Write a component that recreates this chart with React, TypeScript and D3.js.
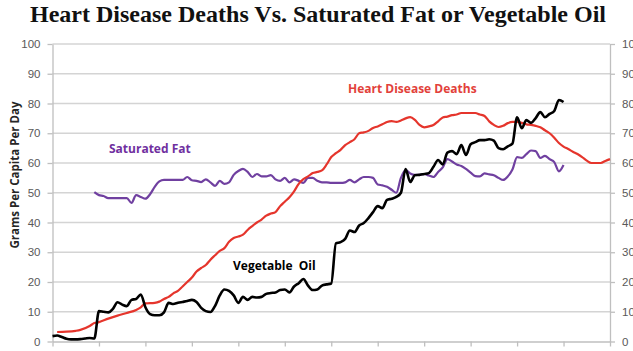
import React, { useEffect, useRef } from 'react';
import * as d3 from 'd3';

// [year, grams per capita per day]
const vegetableOil: [number, number][] = [
  [1900, 1.8], [1901, 2.0], [1902, 1.5], [1903, 0.9], [1904, 0.7], [1905, 0.7], [1906, 0.8],
  [1907, 1.0], [1908, 1.2], [1909, 1.0], [1910, 10.2], [1911, 10.0], [1912, 9.8], [1913, 11.0],
  [1914, 13.2], [1915, 12.4], [1916, 11.9], [1917, 14.0], [1918, 14.3], [1919, 15.8], [1920, 11.5],
  [1921, 9.2], [1922, 8.8], [1923, 8.8], [1924, 9.8], [1925, 13.0], [1926, 12.6], [1927, 13.0],
  [1928, 13.3], [1929, 13.6], [1930, 14.0], [1931, 13.3], [1932, 11.3], [1933, 10.2], [1934, 9.9],
  [1935, 12.0], [1936, 15.5], [1937, 17.5], [1938, 17.0], [1939, 15.5], [1940, 13.0], [1941, 15.0],
  [1942, 14.0], [1943, 15.0], [1944, 14.8], [1945, 15.0], [1946, 16.0], [1947, 16.3], [1948, 16.5],
  [1949, 17.3], [1950, 17.5], [1951, 16.5], [1952, 18.5], [1953, 19.6], [1954, 21.0], [1955, 18.8],
  [1956, 17.3], [1957, 17.5], [1958, 18.8], [1959, 19.2], [1960, 19.5], [1961, 33.0], [1962, 33.4],
  [1963, 34.5], [1964, 37.3], [1965, 36.8], [1966, 39.0], [1967, 39.8], [1968, 41.5], [1969, 43.5],
  [1970, 45.5], [1971, 44.8], [1972, 47.6], [1973, 48.0], [1974, 48.6], [1975, 50.0], [1976, 58.0],
  [1977, 53.6], [1978, 55.9], [1979, 56.0], [1980, 56.3], [1981, 56.6], [1982, 58.7], [1983, 61.0],
  [1984, 59.5], [1985, 63.5], [1986, 64.0], [1987, 63.0], [1988, 66.0], [1989, 62.7], [1990, 66.3],
  [1991, 67.0], [1992, 67.7], [1993, 67.7], [1994, 68.0], [1995, 67.5], [1996, 65.0], [1997, 64.6],
  [1998, 65.6], [1999, 66.5], [2000, 75.4], [2001, 71.7], [2002, 74.4], [2003, 73.5], [2004, 75.1],
  [2005, 77.1], [2006, 75.4], [2007, 76.5], [2008, 77.5], [2009, 81.2], [2010, 80.5],
];

const heartDisease: [number, number][] = [
  [1901, 3.2], [1903, 3.3], [1905, 3.6], [1906, 3.9], [1908, 5.2], [1909, 6.2], [1910, 6.5],
  [1912, 7.7], [1914, 8.7], [1916, 9.6], [1918, 10.6], [1919, 11.5], [1920, 12.8], [1922, 13.0],
  [1923, 13.4], [1924, 14.3], [1925, 15.0], [1926, 16.2], [1927, 17.0], [1928, 18.5], [1929, 20.0],
  [1930, 21.5], [1931, 23.5], [1932, 24.7], [1933, 25.7], [1934, 27.5], [1935, 29.0], [1936, 30.5],
  [1937, 31.4], [1938, 33.5], [1939, 34.8], [1940, 35.3], [1941, 35.9], [1942, 37.5], [1943, 38.8],
  [1944, 40.0], [1945, 41.0], [1946, 42.3], [1947, 43.0], [1948, 43.5], [1949, 45.5], [1950, 47.0],
  [1951, 48.5], [1952, 50.5], [1953, 53.0], [1954, 54.6], [1955, 55.5], [1956, 56.6], [1957, 57.0],
  [1958, 57.5], [1959, 59.5], [1960, 62.0], [1961, 63.3], [1962, 64.4], [1963, 66.0], [1964, 67.0],
  [1965, 68.0], [1966, 70.0], [1967, 70.3], [1968, 70.8], [1969, 71.8], [1970, 72.3], [1971, 73.0],
  [1972, 73.8], [1973, 74.1], [1974, 73.8], [1975, 74.3], [1976, 75.0], [1977, 75.4], [1978, 74.5],
  [1979, 72.8], [1980, 72.0], [1981, 72.3], [1982, 72.8], [1983, 74.0], [1984, 75.3], [1985, 75.6],
  [1986, 76.1], [1987, 76.3], [1988, 76.8], [1989, 76.8], [1990, 76.8], [1991, 76.8], [1992, 76.3],
  [1993, 75.8], [1994, 74.0], [1995, 72.8], [1996, 72.1], [1997, 72.5], [1998, 73.4], [1999, 73.8],
  [2000, 73.8], [2001, 73.5], [2002, 73.0], [2003, 72.8], [2004, 72.5], [2005, 72.0], [2006, 71.0],
  [2007, 70.0], [2008, 68.5], [2009, 66.7], [2010, 65.5], [2011, 64.7], [2012, 63.8], [2013, 63.0],
  [2014, 62.0], [2015, 60.8], [2016, 60.0], [2017, 60.0], [2018, 60.0], [2019, 60.7], [2020, 61.3],
];

const saturatedFat: [number, number][] = [
  [1909, 50.2], [1910, 49.2], [1911, 48.9], [1912, 48.2], [1913, 48.2], [1914, 48.2], [1915, 48.2],
  [1916, 48.2], [1917, 46.6], [1918, 49.2], [1919, 48.6], [1920, 48.0], [1921, 49.5], [1922, 52.0],
  [1923, 53.8], [1924, 54.3], [1925, 54.3], [1926, 54.3], [1927, 54.3], [1928, 54.3], [1929, 55.3],
  [1930, 54.2], [1931, 54.0], [1932, 53.6], [1933, 54.5], [1934, 53.5], [1935, 52.3], [1936, 54.0],
  [1937, 53.0], [1938, 53.5], [1939, 56.0], [1940, 57.3], [1941, 58.0], [1942, 57.0], [1943, 55.3],
  [1944, 56.3], [1945, 55.5], [1946, 55.5], [1947, 55.9], [1948, 54.5], [1949, 54.0], [1950, 55.0],
  [1951, 53.5], [1952, 54.5], [1953, 54.0], [1954, 53.3], [1955, 55.0], [1956, 55.0], [1957, 54.0],
  [1958, 53.5], [1959, 53.5], [1960, 53.3], [1961, 53.3], [1962, 53.3], [1963, 53.5], [1964, 54.3],
  [1965, 53.5], [1966, 54.5], [1967, 55.3], [1968, 55.3], [1969, 55.0], [1970, 52.8], [1971, 52.5],
  [1972, 52.0], [1973, 51.0], [1974, 50.0], [1975, 55.0], [1976, 57.6], [1977, 56.5], [1978, 56.0],
  [1979, 56.0], [1980, 56.3], [1981, 55.8], [1982, 55.3], [1983, 57.0], [1984, 58.5], [1985, 61.3],
  [1986, 60.5], [1987, 59.5], [1988, 59.0], [1989, 58.0], [1990, 56.8], [1991, 55.6], [1992, 55.5],
  [1993, 56.5], [1994, 56.2], [1995, 55.9], [1996, 55.0], [1997, 54.3], [1998, 55.5], [1999, 57.8],
  [2000, 62.0], [2001, 61.7], [2002, 63.0], [2003, 64.2], [2004, 64.0], [2005, 61.7], [2006, 62.4],
  [2007, 61.3], [2008, 60.3], [2009, 57.2], [2010, 59.3],
];

const yTicks = [0, 10, 20, 30, 40, 50, 60, 70, 80, 90, 100];
const xTicks = [1900, 1910, 1920, 1930, 1940, 1950, 1960, 1970, 1980, 1990, 2000, 2010, 2020];

const App = () => {
  const svgRef = useRef<SVGSVGElement>(null);

  useEffect(() => {
    const width = 633;
    const height = 351;
    const margin = { top: 44, right: 23, bottom: 9.5, left: 52.5 };

    const svg = d3.select(svgRef.current).attr('width', width).attr('height', height);
    svg.selectAll('*').remove();

    const x = d3.scaleLinear().domain([1900, 2020]).range([margin.left, width - margin.right]);
    const y = d3.scaleLinear().domain([0, 100]).range([height - margin.bottom, margin.top]);

    // gridlines
    svg.append('g')
      .selectAll('line')
      .data(yTicks.slice(1))
      .join('line')
      .attr('x1', margin.left)
      .attr('x2', width - margin.right)
      .attr('y1', (d) => y(d))
      .attr('y2', (d) => y(d))
      .attr('stroke', '#d4d4d4')
      .attr('stroke-width', 1.3);

    const styleAxis = (g) => {
      g.select('.domain').attr('stroke', '#bfbfbf').attr('stroke-width', 1.3);
      g.selectAll('.tick line').attr('stroke', '#bfbfbf').attr('stroke-width', 1.3);
      g.selectAll('.tick text')
        .attr('fill', '#595959')
        .style('font-family', '"Liberation Sans", Arial, sans-serif')
        .style('font-size', '11.5px');
    };

    svg.append('g')
      .attr('transform', `translate(${margin.left},0)`)
      .call(d3.axisLeft(y).tickValues(yTicks).tickSize(5).tickSizeOuter(0).tickPadding(7))
      .call(styleAxis);

    svg.append('g')
      .attr('transform', `translate(${width - margin.right},0)`)
      .call(d3.axisRight(y).tickValues(yTicks).tickSize(5).tickSizeOuter(0).tickPadding(7))
      .call(styleAxis);

    svg.append('g')
      .attr('transform', `translate(0,${height - margin.bottom})`)
      .call(d3.axisBottom(x).tickValues(xTicks).tickFormat(d3.format('d')).tickSize(5).tickSizeOuter(0).tickPadding(4))
      .call(styleAxis);

    const line = d3
      .line<[number, number]>()
      .x((d) => x(d[0]))
      .y((d) => y(d[1]))
      .curve(d3.curveMonotoneX);

    svg.append('path')
      .datum(saturatedFat)
      .attr('d', line)
      .attr('fill', 'none')
      .attr('stroke', '#7040a0')
      .attr('stroke-width', 2.2);

    svg.append('path')
      .datum(heartDisease)
      .attr('d', line)
      .attr('fill', 'none')
      .attr('stroke', '#e5352c')
      .attr('stroke-width', 2.2);

    svg.append('path')
      .datum(vegetableOil)
      .attr('d', line)
      .attr('fill', 'none')
      .attr('stroke', '#000')
      .attr('stroke-width', 2.6)
      .attr('stroke-linejoin', 'round');

    // series labels
    const label = (text, lx, ly, color) =>
      svg.append('text')
        .attr('x', lx)
        .attr('y', ly)
        .attr('fill', color)
        .style('font-family', '"Open Sans", sans-serif')
        .style('font-weight', 'bold')
        .style('font-size', '12px')
        .text(text);

    label('Heart Disease Deaths', 348, 93, '#e2413a');
    label('Saturated Fat', 109, 153, '#7030a0');
    label('Vegetable Oil', 233, 270, '#000').style('word-spacing', '3px');

    svg.append('text')
      .attr('transform', 'translate(19,175) rotate(-90)')
      .attr('text-anchor', 'middle')
      .attr('fill', '#262626')
      .style('font-family', '"Open Sans", sans-serif')
      .style('font-weight', 'bold')
      .style('font-size', '11.5px')
      .text('Grams Per Capita Per Day');

    svg.append('text')
      .attr('x', 318)
      .attr('y', 22)
      .attr('text-anchor', 'middle')
      .attr('textLength', 576)
      .attr('lengthAdjust', 'spacingAndGlyphs')
      .attr('fill', '#111')
      .style('font-family', '"Liberation Serif", "Times New Roman", serif')
      .style('font-weight', 'bold')
      .style('font-size', '24px')
      .text('Heart Disease Deaths Vs. Saturated Fat or Vegetable Oil');
  }, []);

  return (
    <div style={{ position: 'absolute', left: 0, top: 0, width: 633, height: 351, overflow: 'hidden' }}>
      <svg ref={svgRef} style={{ display: 'block', background: '#fff' }}></svg>
    </div>
  );
};

export default App;
